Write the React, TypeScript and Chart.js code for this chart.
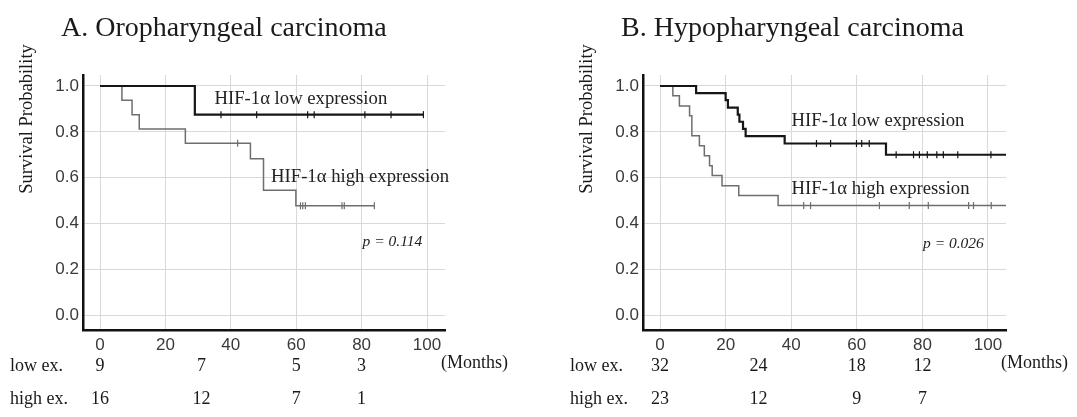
import React, { useEffect, useRef } from 'react';
import { Chart, registerables } from 'chart.js';

Chart.register(...registerables);

// ---------- Data ----------
const xTickValues = [0, 20, 40, 60, 80, 100];
const yTickValues = [0, 0.2, 0.4, 0.6, 0.8, 1.0];

// Panel A: Oropharyngeal carcinoma
const timesLowA = [0, 29.0, 98.9];
const survLowA = [1, 0.875, 0.875];
const censorLowA = [37.0, 47.9, 63.5, 65.5, 81.0, 89.0, 98.9];
const timesHighA = [0, 6.7, 9.8, 12.0, 26.1, 46.0, 50.0, 59.9, 83.9];
const survHighA = [1, 0.9375, 0.875, 0.8125, 0.75, 0.682, 0.545, 0.477, 0.477];
const censorHighA = [42.1, 61.3, 62.0, 62.8, 74.0, 74.7, 83.9];
const riskTimesA = [0, 31, 60, 80];
const riskLowA = [9, 7, 5, 3];
const riskHighA = [16, 12, 7, 1];

// Panel B: Hypopharyngeal carcinoma
const timesLowB = [0, 11.0, 20.0, 20.7, 23.7, 24.2, 25.3, 26.1, 38.0, 68.9, 105.5];
const survLowB = [1, 0.969, 0.938, 0.906, 0.875, 0.844, 0.813, 0.781, 0.749, 0.70, 0.70];
const censorLowB = [47.7, 52.0, 59.9, 61.5, 63.8, 72.0, 77.3, 79.1, 81.5, 84.4, 86.4, 90.8, 100.9];
const timesHighB = [0, 3.9, 5.9, 9.0, 9.7, 12.0, 13.5, 15.1, 15.9, 18.9, 24.0, 36.0, 105.5];
const survHighB = [1, 0.957, 0.913, 0.870, 0.783, 0.739, 0.696, 0.652, 0.609, 0.565, 0.522, 0.478, 0.478];
const censorHighB = [43.8, 45.9, 66.9, 76.0, 81.8, 94.1, 95.6, 101.0];
const riskTimesB = [0, 30, 60, 80];
const riskLowB = [32, 24, 18, 12];
const riskHighB = [23, 12, 9, 7];

const titleA = 'A. Oropharyngeal carcinoma';
const titleB = 'B. Hypopharyngeal carcinoma';
const lowLabel = 'HIF-1α low expression';
const highLabel = 'HIF-1α high expression';
const pValueA = 'p = 0.114';
const pValueB = 'p = 0.026';
const yTitle = 'Survival Probability';
const rowLabels = ['low ex.', 'high ex.'];
const unitLabel = '(Months)';

// ---------- helpers ----------
function levelAt(times: number[], surv: number[], t: number) {
  let v = surv[0];
  for (let i = 0; i < times.length; i++) if (times[i] <= t) v = surv[i];
  return v;
}
function toPoints(times: number[], surv: number[]) {
  return times.map((t, i) => ({ x: t, y: surv[i] }));
}
function censorPoints(times: number[], surv: number[], cens: number[]) {
  return cens.map((t) => ({ x: t, y: levelAt(times, surv, t) }));
}

const SERIF = '"Liberation Serif", "Times New Roman", serif';
const SANS = '"Liberation Sans", Arial, sans-serif';
const LOW_COLOR = '#161616';
const HIGH_COLOR = '#6e6e6e';

type Panel = {
  title: string;
  timesLow: number[]; survLow: number[]; censorLow: number[];
  timesHigh: number[]; survHigh: number[]; censorHigh: number[];
  riskTimes: number[]; riskLow: number[]; riskHigh: number[];
  pValue: string;
  lowAt: [number, number]; highAt: [number, number]; pAt: [number, number];
  width: number; plotRight: number;
};

const panelA: Panel = {
  title: titleA,
  timesLow: timesLowA, survLow: survLowA, censorLow: censorLowA,
  timesHigh: timesHighA, survHigh: survHighA, censorHigh: censorHighA,
  riskTimes: riskTimesA, riskLow: riskLowA, riskHigh: riskHighA,
  pValue: pValueA,
  lowAt: [35.0, 0.92], highAt: [52.3, 0.582], pAt: [80.3, 0.301],
  width: 560, plotRight: 445,
};
const panelB: Panel = {
  title: titleB,
  timesLow: timesLowB, survLow: survLowB, censorLow: censorLowB,
  timesHigh: timesHighB, survHigh: survHighB, censorHigh: censorHighB,
  riskTimes: riskTimesB, riskLow: riskLowB, riskHigh: riskHighB,
  pValue: pValueB,
  lowAt: [40.1, 0.825], highAt: [40.1, 0.527], pAt: [80.2, 0.295],
  width: 517, plotRight: 446,
};

function makeTextPlugin(p: Panel) {
  return {
    id: 'kmText',
    afterDraw(chart: any) {
      const ctx = chart.ctx as CanvasRenderingContext2D;
      const xs = chart.scales.x;
      const ys = chart.scales.y;
      ctx.save();
      ctx.fillStyle = '#1a1a1a';
      ctx.textBaseline = 'alphabetic';

      // title
      ctx.font = `28px ${SERIF}`;
      ctx.textAlign = 'left';
      ctx.fillText(p.title, 61, 36);

      // y-axis title
      ctx.save();
      ctx.font = `18.5px ${SERIF}`;
      ctx.translate(32, 119);
      ctx.rotate(-Math.PI / 2);
      ctx.textAlign = 'center';
      ctx.fillText(yTitle, 0, 0);
      ctx.restore();

      // curve labels
      ctx.font = `18.7px ${SERIF}`;
      ctx.textAlign = 'left';
      ctx.fillStyle = '#222';
      ctx.fillText(lowLabel, xs.getPixelForValue(p.lowAt[0]), ys.getPixelForValue(p.lowAt[1]));
      ctx.fillText(highLabel, xs.getPixelForValue(p.highAt[0]), ys.getPixelForValue(p.highAt[1]));
      ctx.font = `italic 15.5px ${SERIF}`;
      ctx.fillText(p.pValue, xs.getPixelForValue(p.pAt[0]), ys.getPixelForValue(p.pAt[1]));

      // number-at-risk table
      ctx.fillStyle = '#1a1a1a';
      ctx.font = `18px ${SERIF}`;
      const rowY = [371, 404];
      ctx.textAlign = 'left';
      ctx.fillText(rowLabels[0], 10, rowY[0]);
      ctx.fillText(rowLabels[1], 10, rowY[1]);
      ctx.textAlign = 'center';
      p.riskTimes.forEach((t, i) => {
        const px = xs.getPixelForValue(t);
        ctx.fillText(String(p.riskLow[i]), px, rowY[0]);
        ctx.fillText(String(p.riskHigh[i]), px, rowY[1]);
      });
      ctx.textAlign = 'left';
      ctx.fillText(unitLabel, 441, 368);
      ctx.restore();
    },
  };
}

function buildChart(canvas: HTMLCanvasElement, p: Panel) {
  const plotLeft = 83;
  const plotTop = 75;
  const plotBottom = 330;
  const H = 417;
  return new Chart(canvas, {
    type: 'line',
    data: {
      datasets: [
        {
          data: toPoints(p.timesLow, p.survLow),
          stepped: true,
          borderColor: LOW_COLOR,
          borderWidth: 2.2,
          pointRadius: 0,
          fill: false,
        } as any,
        {
          data: toPoints(p.timesHigh, p.survHigh),
          stepped: true,
          borderColor: HIGH_COLOR,
          borderWidth: 1.5,
          pointRadius: 0,
          fill: false,
        } as any,
        {
          type: 'scatter',
          data: censorPoints(p.timesLow, p.survLow, p.censorLow),
          pointStyle: 'line',
          rotation: 90,
          pointRadius: 3.5,
          borderColor: LOW_COLOR,
          backgroundColor: LOW_COLOR,
          borderWidth: 1.2,
          showLine: false,
        } as any,
        {
          type: 'scatter',
          data: censorPoints(p.timesHigh, p.survHigh, p.censorHigh),
          pointStyle: 'line',
          rotation: 90,
          pointRadius: 3.5,
          borderColor: HIGH_COLOR,
          backgroundColor: HIGH_COLOR,
          borderWidth: 1.2,
          showLine: false,
        } as any,
      ],
    },
    options: {
      responsive: false,
      animation: false,
      devicePixelRatio: 1,
      events: [],
      layout: {
        padding: { left: 0, top: plotTop, right: p.width - p.plotRight, bottom: 0 },
      },
      plugins: {
        legend: { display: false },
        tooltip: { enabled: false },
        title: { display: false },
      },
      scales: {
        x: {
          type: 'linear',
          min: -5.2,
          max: 105.5,
          afterBuildTicks: (s: any) => {
            s.ticks = xTickValues.map((v) => ({ value: v }));
          },
          afterFit: (s: any) => {
            s.height = H - plotBottom;
          },
          grid: { color: '#d9d9d9', lineWidth: 1, drawTicks: false },
          border: { display: true, color: '#111', width: 2.5 },
          ticks: {
            font: { family: SANS, size: 17 },
            color: '#3a3a3a',
            padding: 5,
            maxRotation: 0,
            autoSkip: false,
            callback: (v: any) => String(v),
          },
        },
        y: {
          type: 'linear',
          min: -0.065,
          max: 1.048,
          afterBuildTicks: (s: any) => {
            s.ticks = yTickValues.map((v) => ({ value: v }));
          },
          afterFit: (s: any) => {
            s.width = plotLeft;
          },
          grid: { color: '#d9d9d9', lineWidth: 1, drawTicks: false },
          border: { display: true, color: '#111', width: 2.5 },
          ticks: {
            font: { family: SANS, size: 17 },
            color: '#3a3a3a',
            padding: 4,
            autoSkip: false,
            callback: (v: any) => Number(v).toFixed(1),
          },
        },
      },
    } as any,
    plugins: [makeTextPlugin(p)],
  });
}

export default function App() {
  const refA = useRef<HTMLCanvasElement>(null);
  const refB = useRef<HTMLCanvasElement>(null);

  useEffect(() => {
    const a = buildChart(refA.current!, panelA);
    const b = buildChart(refB.current!, panelB);
    return () => {
      a.destroy();
      b.destroy();
    };
  }, []);

  return (
    <div style={{ position: 'absolute', left: 0, top: 0, width: 1077, height: 417, background: '#fff' }}>
      <canvas
        ref={refA}
        width={panelA.width}
        height={417}
        style={{ position: 'absolute', left: 0, top: 0, width: panelA.width, height: 417 }}
      />
      <canvas
        ref={refB}
        width={panelB.width}
        height={417}
        style={{ position: 'absolute', left: 560, top: 0, width: panelB.width, height: 417 }}
      />
    </div>
  );
}
